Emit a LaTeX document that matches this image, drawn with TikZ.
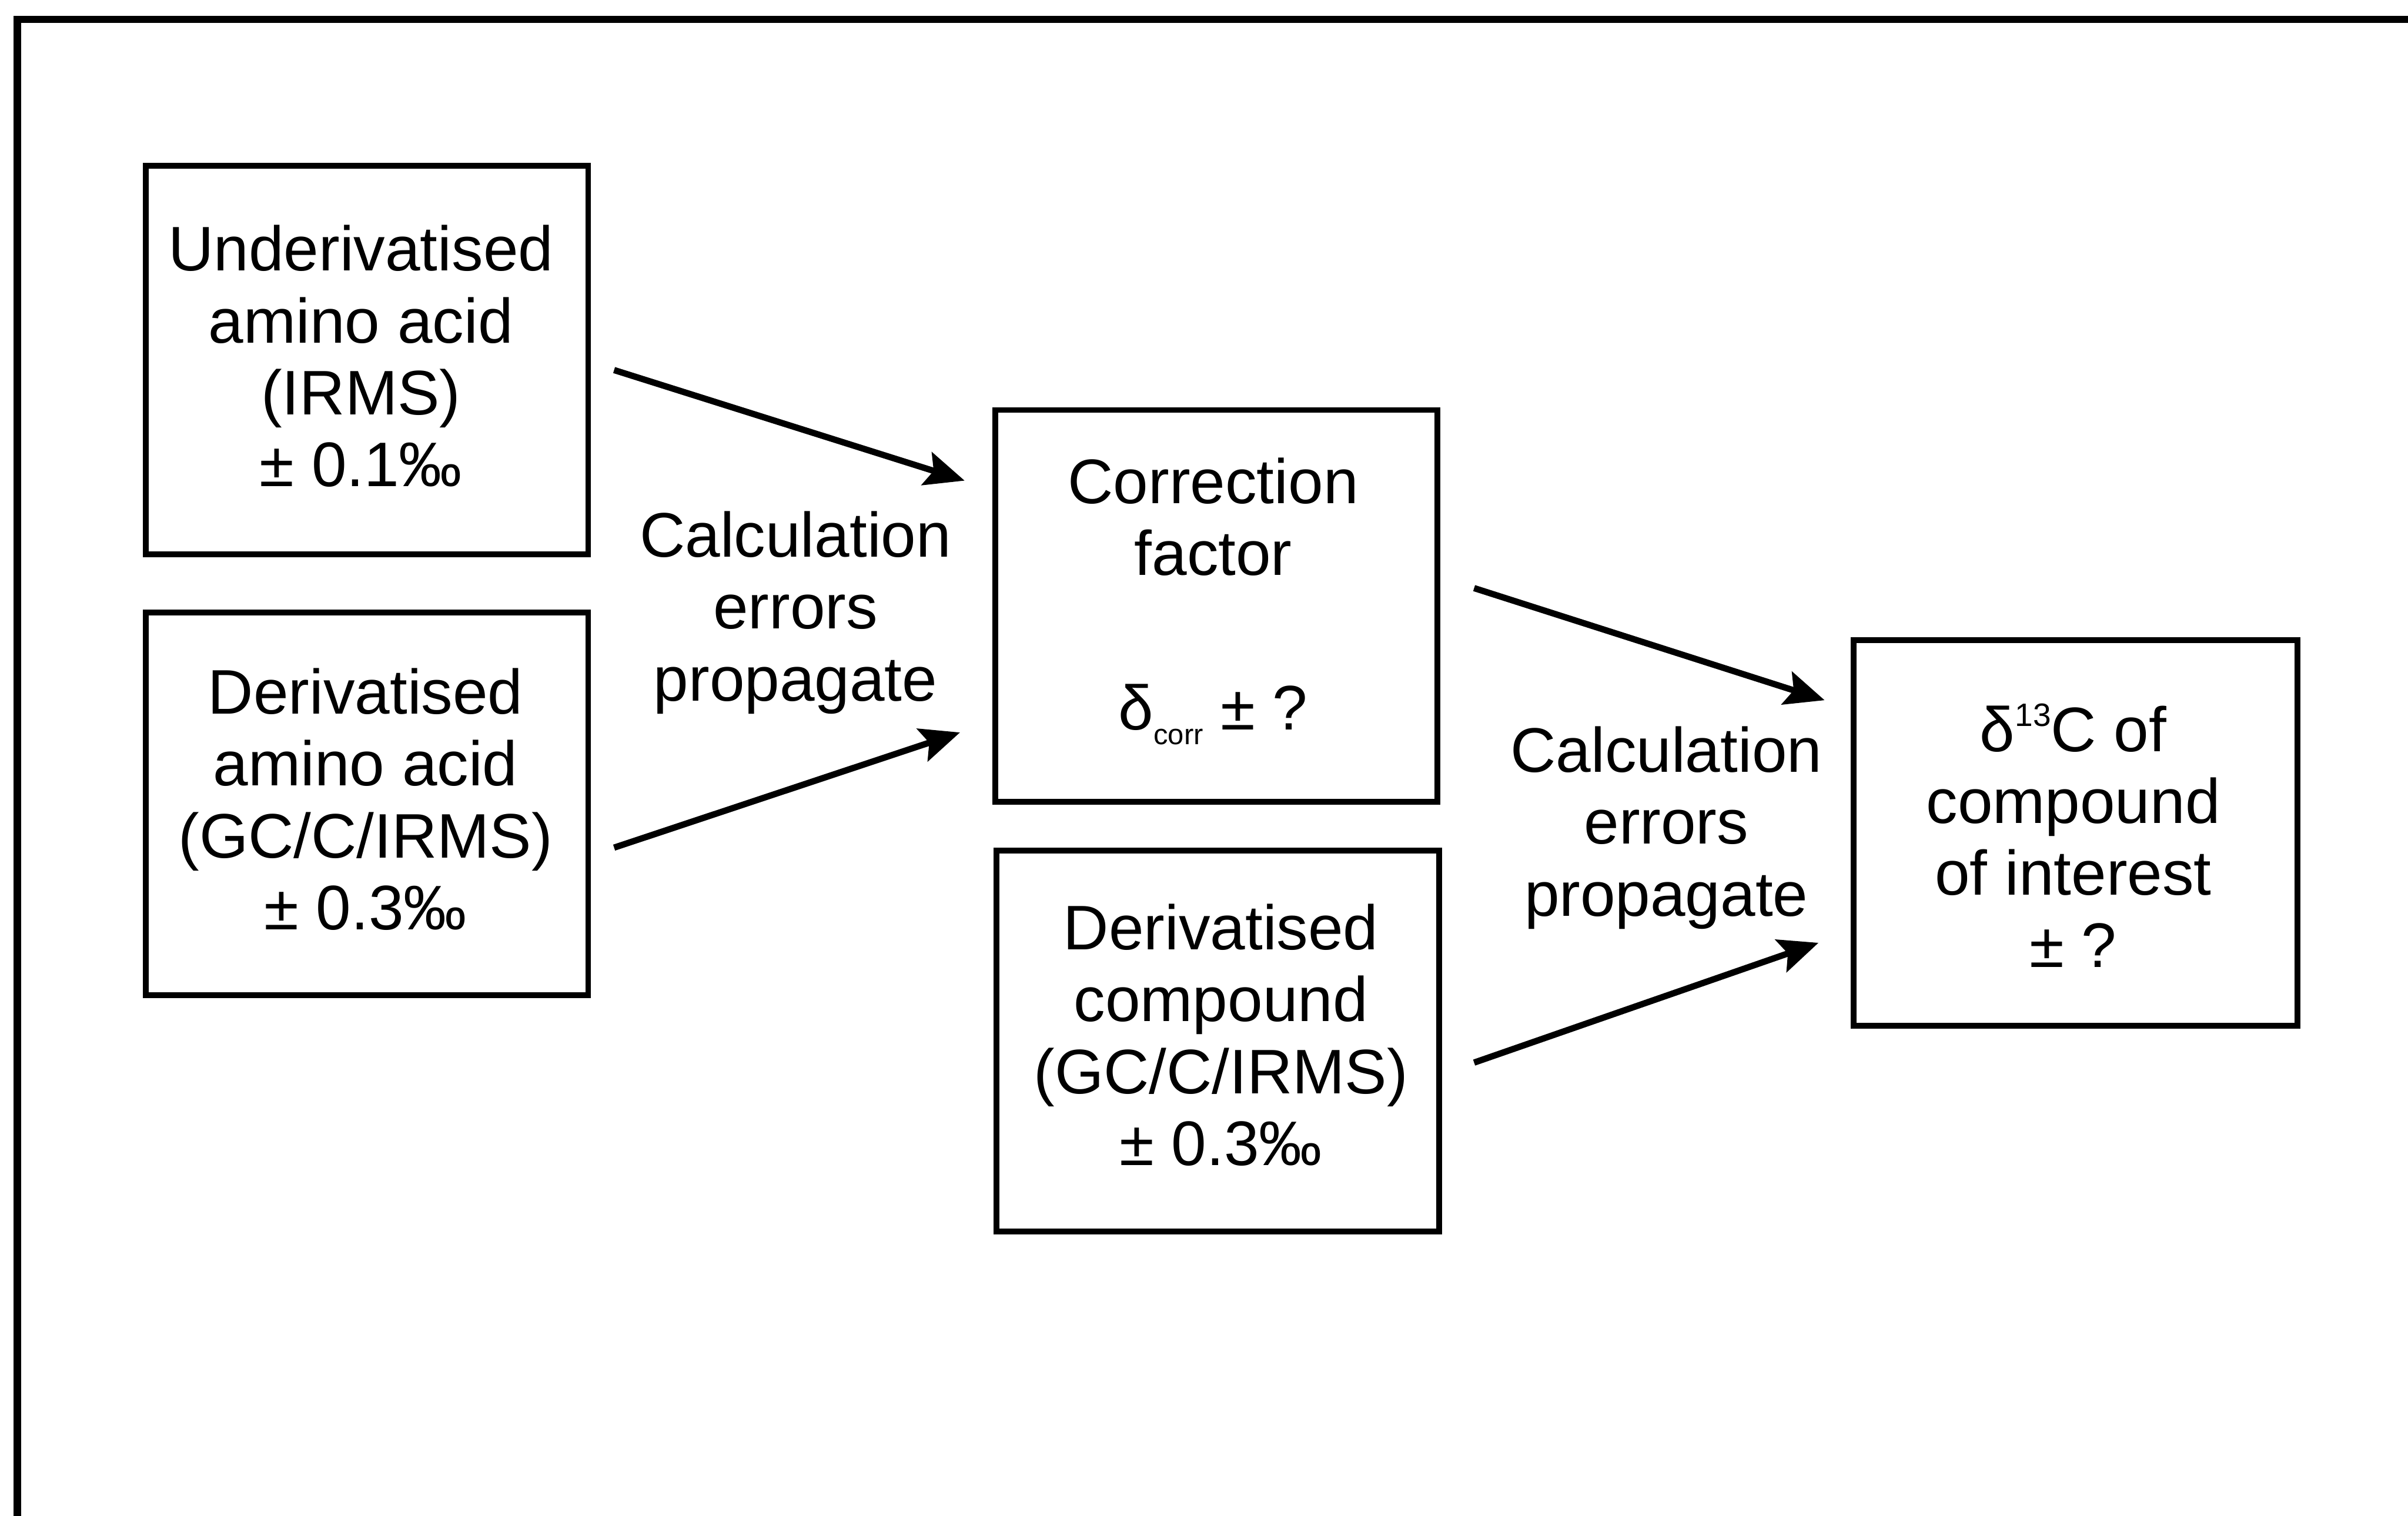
\documentclass[tikz,border=0pt]{standalone}
\usepackage{fontspec}
\setmainfont{Liberation Sans}
\usetikzlibrary{arrows.meta,calc}

\begin{document}
\begin{tikzpicture}[x=0.03cm,y=-0.03cm,
  box/.style={draw, line width=3.2pt, rectangle, inner sep=0pt},
  txt/.style={align=center, inner sep=0pt, font=\fontsize{35pt}{40pt}\selectfont},
  flow/.style={line width=3.5pt, -{Stealth[length=22pt,width=19pt,inset=4pt]}},
  frame/.style={line width=4pt, line cap=rect}]

% page extent
\useasboundingbox (0,0) rectangle (1568,987);
\clip (0,0) rectangle (1568,987);

% outer frame (left and top edges)
\draw[frame] (11.3,1010) -- (11.3,12.5) -- (1590,12.5);

% measurement boxes
\node[box, minimum width=8.64cm, minimum height=7.59cm] (b1) at (239,234.5) {};
\node[box, minimum width=8.64cm, minimum height=7.47cm] (b2) at (239,523.5) {};
\node[box, minimum width=8.64cm, minimum height=7.65cm] (b3) at (792,394.5) {};
\node[box, minimum width=8.64cm, minimum height=7.44cm] (b4) at (793,678) {};
\node[box, minimum width=8.67cm, minimum height=7.53cm] (b5) at (1351.5,542.5) {};

% box texts
\node[txt] (t1) at (235,232) {Underivatised\\amino acid\\(IRMS)\\± 0.1‰};
\node[txt] (t2) at (238,520.5) {Derivatised\\amino acid\\(GC/C/IRMS)\\± 0.3‰};
\node[txt] (t3) at (790,391.5) {Correction\\factor\\[46pt]δ\raisebox{-8pt}{\fontsize{16pt}{16pt}\selectfont corr} ± ?};
\node[txt] (t4) at (795,674) {Derivatised\\compound\\(GC/C/IRMS)\\± 0.3‰};
\node[txt] (t5) at (1350,544) {δ\raisebox{14pt}{\fontsize{18pt}{18pt}\selectfont 13}C of\\compound\\of interest\\± ?};

% propagation labels
\node[txt] (c1) at (518,399) {Calculation\\errors\\propagate};
\node[txt] (c2) at (1085,539) {Calculation\\errors\\propagate};

% connectors
\draw[flow] ($(b1.east)+(15,6.5)$) -- ($(b3.west)+(-18,-81.5)$);
\draw[flow] ($(b2.east)+(15,28.5)$) -- ($(b3.west)+(-21,82.5)$);
\draw[flow] ($(b3.east)+(22,-11.5)$) -- ($(b5.west)+(-17,-86.5)$);
\draw[flow] ($(b4.east)+(21,14)$) -- ($(b5.west)+(-21,71.5)$);

\end{tikzpicture}
\end{document}
